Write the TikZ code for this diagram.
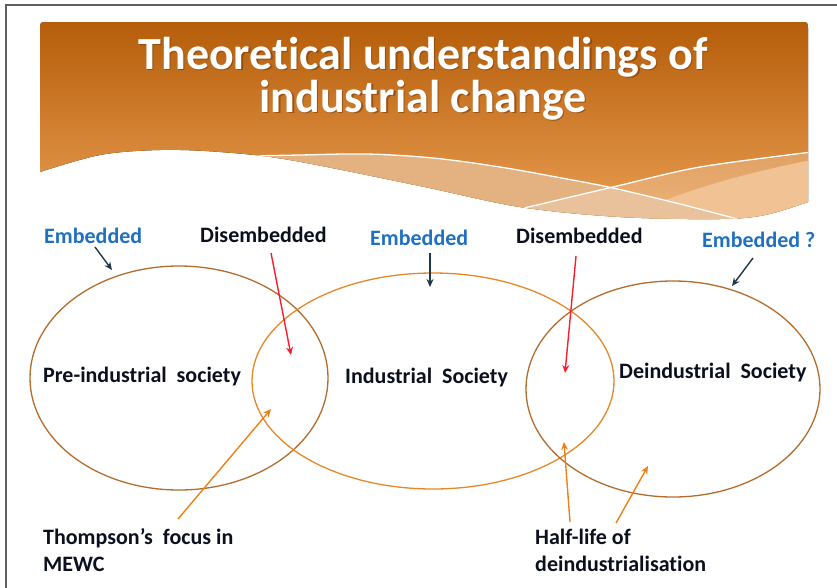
\documentclass[tikz,border=0pt]{standalone}
\usepackage{fontspec}
\setmainfont{Carlito}[RawFeature={-liga;-clig;-calt}]
\usetikzlibrary{shapes.geometric,arrows.meta}

\definecolor{framegray}{RGB}{95,95,95}
\definecolor{bannertop}{RGB}{181,93,10}
\definecolor{bannerbot}{RGB}{234,158,82}
\definecolor{bandtan}{RGB}{228,178,128}
\definecolor{bandpale}{RGB}{236,178,118}
\definecolor{titleshade}{RGB}{110,55,10}
\definecolor{embblue}{RGB}{31,112,192}
\definecolor{inkdark}{RGB}{12,16,30}
\definecolor{arrowdark}{RGB}{30,55,75}
\definecolor{arrowred}{RGB}{250,30,45}
\definecolor{arroworange}{RGB}{240,128,22}
\definecolor{ringbrown}{RGB}{178,108,45}
\definecolor{ringorange}{RGB}{230,135,40}

\begin{document}
\begin{tikzpicture}[x=1pt,y=-1pt,
  titletext/.style={font=\fontsize{46}{46}\selectfont\bfseries, text=white, inner sep=0pt, anchor=base},
  titleshadow/.style={titletext, text=titleshade, opacity=0.55},
  lbl/.style={font=\fontsize{22}{27}\selectfont\bfseries, inner sep=0pt, anchor=base west, align=left, text=inkdark},
  bluelbl/.style={lbl, text=embblue},
  ring/.style={ellipse, inner sep=0pt, line width=1.3pt},
  pointer/.style={line width=1.4pt, -{Stealth[length=8pt,width=7pt]}},
  darkptr/.style={pointer, draw=arrowdark},
  redptr/.style={pointer, draw=arrowred},
  orangeptr/.style={pointer, draw=arroworange},
  wave/.style={draw=white, line width=1.3pt}
]
\useasboundingbox (0,0) rectangle (837,587);

% slide frame
\draw[framegray, line width=2pt] (6,590) -- (6,4.5) -- (840,4.5);

% ---- title banner ----
\def\bannerpath{(40,172) -- (40,30) .. controls (40,22) .. (48,22) -- (800,22)
  .. controls (808,22) .. (808,30) -- (808,202)
  -- plot[smooth,tension=0.55] coordinates {(808,202) (765,215) (720,219) (620,217)
     (520,207) (420,186) (290,160) (220,152) (160,150) (100,155) (40,172)} -- cycle}
\fill[top color=bannertop, bottom color=bannerbot] \bannerpath;
\begin{scope}
  \clip \bannerpath;
  % pale lower band on the right
  \fill[bandpale] (640,210) .. controls (700,185) and (760,170) .. (812,160)
     -- (850,160) -- (850,260) -- (640,260) -- cycle;
  % tan band under the first sweep line
  \fill[bandtan] plot[smooth,tension=0.55] coordinates {(250,156) (300,155) (367,154)
     (433,158) (500,167) (567,179) (613,188) (680,204) (745,221)}
     -- (745,260) -- (250,260) -- cycle;
  % light wash under the second sweep line
  \fill[white, opacity=0.22] plot[smooth,tension=0.5] coordinates {(500,214) (520,209)
     (613,187) (700,167) (812,152)} -- (850,152) -- (850,260) -- (500,260) -- cycle;
  % white sweep lines
  \draw[wave] plot[smooth,tension=0.55] coordinates {(250,156) (300,155) (367,154)
     (433,158) (500,167) (567,179) (613,188) (680,204) (745,221)};
  \draw[wave] plot[smooth,tension=0.5] coordinates {(500,214) (520,209)
     (613,187) (700,167) (812,152)};
\end{scope}

% title
\node[titleshadow] (t1s) at (424.3,70.3) {Theoretical understandings of};
\node[titleshadow] (t2s) at (424.3,113.3) {industrial change};
\node[titletext] (t1) at (423,69) {Theoretical understandings of};
\node[titletext] (t2) at (423,112) {industrial change};

% ---- societies ----
\node[ring, draw=ringbrown, minimum width=298pt, minimum height=224pt] (preE) at (179,378) {};
\node[ring, draw=ringorange, minimum width=362pt, minimum height=216pt] (indE) at (433,381) {};
\node[ring, draw=ringbrown, minimum width=294pt, minimum height=216pt] (deinE) at (673,389) {};

\node[lbl] (pre) at (43,382) {Pre-industrial\ \ society};
\node[lbl] (ind) at (345,383) {Industrial\ \ Society};
\node[lbl] (dein) at (619,378) {Deindustrial\ \ Society};

% ---- upper labels ----
\node[bluelbl] (embL) at (44,243) {Embedded};
\node[lbl] (disL) at (200,242) {Disembedded};
\node[bluelbl] (embM) at (370,245) {Embedded};
\node[lbl] (disR) at (516,243) {Disembedded};
\node[bluelbl] (embR) at (702,247) {Embedded ?};

% ---- lower labels (base = last line) ----
\node[lbl] (thompson) at (43,571) {Thompson’s\ \ focus in\\MEWC};
\node[lbl] (halflife) at (535,571) {Half-life of\\deindustrialisation};

% ---- pointer ends ----
\coordinate (embL-a) at (95,247);   \coordinate (embL-b) at (112,270);
\coordinate (disL-a) at (271,253);  \coordinate (disL-b) at (291,355);
\coordinate (embM-a) at (430,253);  \coordinate (embM-b) at (430,287);
\coordinate (disR-a) at (576,256);  \coordinate (disR-b) at (565,373);
\coordinate (embR-a) at (753,258);  \coordinate (embR-b) at (732,286);
\coordinate (thom-a) at (178,519);  \coordinate (thom-b) at (271,409);
\coordinate (half-a) at (570,522);  \coordinate (half-b) at (564,442);
\coordinate (half-c) at (616,523);  \coordinate (half-d) at (648,466);

\draw[darkptr] (embL-a) -- (embL-b);
\draw[redptr] (disL-a) -- (disL-b);
\draw[darkptr] (embM-a) -- (embM-b);
\draw[redptr] (disR-a) -- (disR-b);
\draw[darkptr] (embR-a) -- (embR-b);
\draw[orangeptr] (thom-a) -- (thom-b);
\draw[orangeptr] (half-a) -- (half-b);
\draw[orangeptr] (half-c) -- (half-d);
\end{tikzpicture}
\end{document}
